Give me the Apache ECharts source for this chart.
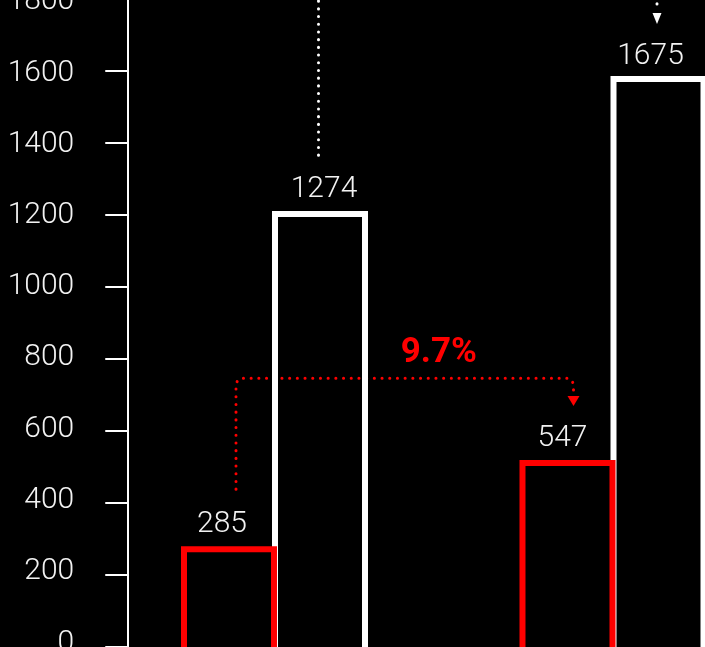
<!DOCTYPE html>
<html>
<head>
<meta charset="utf-8">
<script src="https://cdn.jsdelivr.net/npm/echarts@6/dist/echarts.min.js"></script>
<style>
html,body{margin:0;padding:0;background:#000;}
#c{width:705px;height:647px;}
</style>
</head>
<body>
<div id="c"></div>
<script>
// ---- data ----
const categories = ['Group A', 'Group B'];
const redValues = [280, 519];
const redLabels = ['285', '547'];
const whiteValues = [1210, 1585];
const whiteLabels = ['1274', '1675'];
const yTicks = [0, 200, 400, 600, 800, 1000, 1200, 1400, 1600, 1800];
const changeLabel = '9.7%';

// ---- layout / style constants ----
const FONT = 'Roboto';
const RED = '#ff0000';
const WHITE = '#ffffff';
const TEXT = '#f2f2f2';
const redLabelOffsets = [[-7, 0], [-5, 0]];
const whiteLabelOffsets = [[4, 0], [-8, 3]];
const BASE = -30; // bars start just below the visible frame (cropped look)

const yStep = yTicks[1] - yTicks[0];
const yMax = yTicks[yTicks.length - 1];

const chart = echarts.init(document.getElementById('c'), null, {renderer: 'canvas'});

function barData(values, labels, offsets) {
  return values.map((v, i) => ({
    value: v - BASE,
    label: {formatter: labels[i], offset: offsets[i]}
  }));
}

const labelStyle = {
  show: true,
  position: 'top',
  distance: 7,
  color: TEXT,
  fontFamily: FONT,
  fontWeight: 300,
  fontSize: 30
};

// per-tick label nudge (labels sit slightly above the ticks toward the bottom)
const rich = {};
yTicks.concat([-200]).forEach(v => {
  const up = (v >= 1600 ? 0 : Math.min(6.5, (1600 - v) / 200 * 0.85)) - 2.5;
  const padTop = up < 0 ? -2 * up : 0;
  const padBottom = up > 0 ? 2 * up : 0;
  rich['t' + (v < 0 ? 'm' : v)] = {
    color: TEXT, fontFamily: FONT, fontWeight: 300, fontSize: 30,
    padding: [padTop, 0, padBottom, 0]
  };
});

const baseSeries = (stack) => ({
  type: 'bar',
  stack: stack,
  stackStrategy: 'all',
  data: categories.map(() => BASE),
  barWidth: 96,
  barGap: '-5.2%',
  itemStyle: {color: 'rgba(0,0,0,0)'},
  silent: true,
  label: {show: false}
});

const option = {
  backgroundColor: '#000',
  animation: false,
  grid: {left: 105.25, top: -1.5, bottom: -72.06, width: 677, containLabel: false, outerBoundsMode: 'none'},
  xAxis: {
    type: 'category',
    data: categories,
    show: false
  },
  yAxis: {
    type: 'value',
    min: -yStep, max: yMax, interval: yStep,
    offset: -22,
    axisLine: {show: true, onZero: false, lineStyle: {color: WHITE, width: 2}},
    axisTick: {show: true, inside: false, length: 22, lineStyle: {color: WHITE, width: 2}},
    axisLabel: {
      margin: 53,
      color: TEXT, fontFamily: FONT, fontWeight: 300, fontSize: 30,
      formatter: v => `{t${v < 0 ? 'm' : v}|${v}}`,
      rich: rich
    },
    splitLine: {show: false}
  },
  series: [
    baseSeries('r'),
    {
      type: 'bar',
      name: 'red',
      stack: 'r',
      stackStrategy: 'all',
      z: 3,
      data: barData(redValues, redLabels, redLabelOffsets),
      barWidth: 96,
      barGap: '-5.2%',
      itemStyle: {color: 'rgba(0,0,0,0)', borderColor: RED, borderWidth: 6},
      label: labelStyle
    },
    baseSeries('w'),
    {
      type: 'bar',
      name: 'white',
      stack: 'w',
      stackStrategy: 'all',
      z: 2,
      data: barData(whiteValues, whiteLabels, whiteLabelOffsets),
      barWidth: 96,
      barGap: '-5.2%',
      itemStyle: {color: 'rgba(0,0,0,0)', borderColor: WHITE, borderWidth: 6},
      label: labelStyle
    }
  ]
};

chart.setOption(option);

function px(cat, val) {
  return chart.convertToPixel({gridIndex: 0}, [cat, val]);
}

const c0 = px(0, 0)[0];
const c1 = px(1, 0)[0];
const py = v => px(0, v)[1];

const dot = (color) => ({stroke: color, lineWidth: 3, lineDash: [0.1, 7.6], lineCap: 'round', fill: null});

// red connector
const rx0 = c0 - 38.5, rx1 = c1 - 39.5;
const ry0 = py(438), ryh = py(746), ryA = py(697), ryT = py(669);
const r = 6;
const redPts = [
  [rx0, ry0], [rx0, ryh + r], [rx0 + r * 0.3, ryh + r * 0.3], [rx0 + r, ryh],
  [rx1 - r, ryh], [rx1 - r * 0.3, ryh + r * 0.3], [rx1, ryh + r], [rx1, ryA - 2]
];

// white connectors
const wx0 = c0 + 44, wx1 = c1 + 44;
const wy0b = py(1365), wy0t = py(1830);
const wy1A = py(1760), wy1T = py(1729), wy1t = py(1830);

const midX = (c0 + c1) / 2 - 5;

chart.setOption({
  graphic: [
    {type: 'polyline', silent: true, shape: {points: redPts}, style: dot(RED)},
    {type: 'polygon', silent: true, shape: {points: [[rx1 - 6, ryA], [rx1 + 6, ryA], [rx1, ryT]]}, style: {fill: RED}},
    {type: 'polyline', silent: true, shape: {points: [[wx0, wy0b], [wx0, wy0t]]}, style: dot(WHITE)},
    {type: 'polyline', silent: true, shape: {points: [[wx1, wy1A - 9], [wx1, wy1t]]}, style: dot(WHITE)},
    {type: 'polygon', silent: true, shape: {points: [[wx1 - 4.5, wy1A], [wx1 + 4.5, wy1A], [wx1, wy1T]]}, style: {fill: WHITE}},
    {type: 'text', silent: true, x: midX, y: py(815),
      style: {text: changeLabel, fill: RED, font: 'bold 35px ' + FONT, align: 'center', verticalAlign: 'middle', textAlign: 'center', textVerticalAlign: 'middle'}}
  ]
});
</script>
</body>
</html>
